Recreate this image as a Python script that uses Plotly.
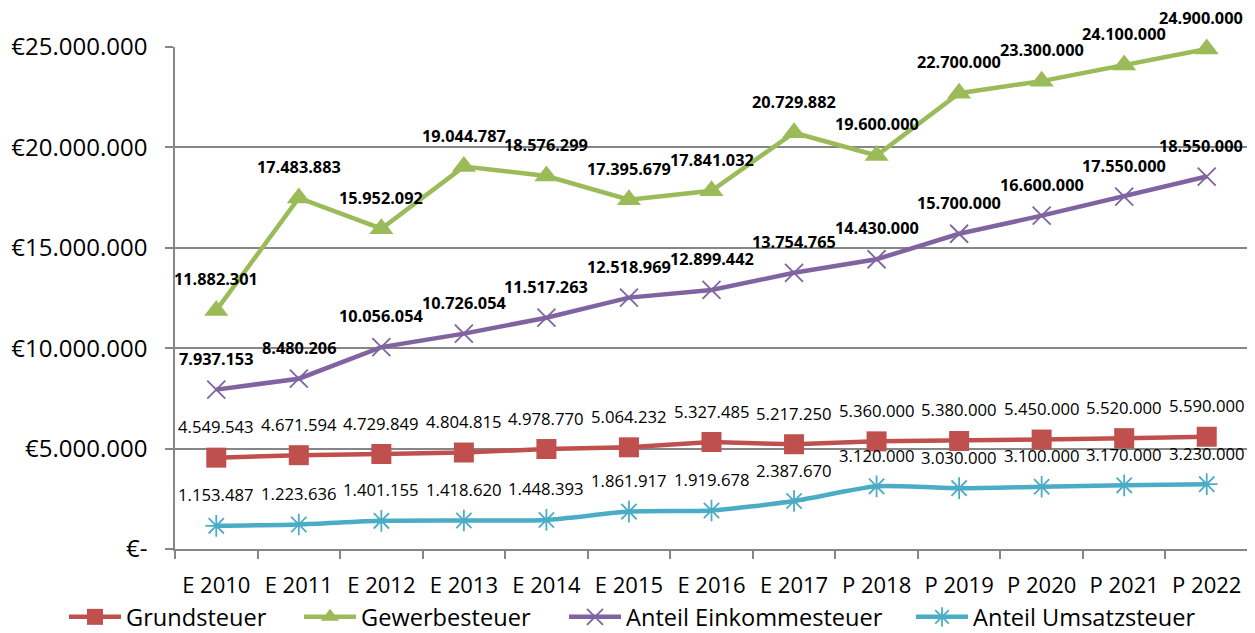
import plotly.graph_objects as go

categories = ["E 2010", "E 2011", "E 2012", "E 2013", "E 2014", "E 2015", "E 2016",
              "E 2017", "P 2018", "P 2019", "P 2020", "P 2021", "P 2022"]
grundsteuer = [4549543, 4671594, 4729849, 4804815, 4978770, 5064232, 5327485,
               5217250, 5360000, 5380000, 5450000, 5520000, 5590000]
gewerbesteuer = [11882301, 17483883, 15952092, 19044787, 18576299, 17395679, 17841032,
                 20729882, 19600000, 22700000, 23300000, 24100000, 24900000]
einkommensteuer = [7937153, 8480206, 10056054, 10726054, 11517263, 12518969, 12899442,
                   13754765, 14430000, 15700000, 16600000, 17550000, 18550000]
umsatzsteuer = [1153487, 1223636, 1401155, 1418620, 1448393, 1861917, 1919678,
                2387670, 3120000, 3030000, 3100000, 3170000, 3230000]
ytick_vals = [0, 5000000, 10000000, 15000000, 20000000, 25000000]


def fmt(v):
    return f"{v:,.0f}".replace(",", ".")


FONT = "Open Sans"
W, H = 1247, 625  # page body adds an 8px margin
series = [
    ("Grundsteuer", grundsteuer, "#C0504D", dict(symbol="square", size=20), "linear", False),
    ("Gewerbesteuer", gewerbesteuer, "#9BBB59", dict(symbol="triangle-up", size=21), "linear", True),
    ("Anteil Einkommesteuer", einkommensteuer, "#8064A2",
     dict(symbol="x-thin-open", size=18, line=dict(width=1.8, color="#8064A2")), "linear", True),
    ("Anteil Umsatzsteuer", umsatzsteuer, "#4BACC6",
     dict(symbol="asterisk-open", size=18, line=dict(width=1.8, color="#4BACC6")), "spline", False),
]
legend_x_px = [56, 291, 556, 903]
legend_keys = ["legend", "legend2", "legend3", "legend4"]

fig = go.Figure()
annotations = []
for (name, vals, color, marker, shape, bold), lk in zip(series, legend_keys):
    fig.add_trace(go.Scatter(
        x=categories, y=vals, name=name, mode="lines+markers", legend=lk,
        line=dict(color=color, width=4.5, shape=shape, smoothing=0.6),
        marker=dict(color=color, **marker), cliponaxis=False,
    ))
    last = len(categories) - 1
    for i, (c, v) in enumerate(zip(categories, vals)):
        annotations.append(dict(
            x=c, y=v, xref="x", yref="y", text=(f"<b>{fmt(v)}</b>" if bold else fmt(v)),
            showarrow=False, yshift=31, xshift=(-6 if (bold and i == last) else 0), borderpad=0,
            font=dict(family=FONT, size=(16.3 if bold else 16.7), color="#000000"),
        ))

legends = {}
for lk, px in zip(legend_keys, legend_x_px):
    legends[lk] = dict(orientation="h", xref="container", yref="container", x=px / W, xanchor="left",
                       y=1 - 609 / H, yanchor="middle", font=dict(family=FONT, size=23.6),
                       itemwidth=52, bgcolor="rgba(0,0,0,0)", borderwidth=0)

fig.update_layout(
    width=W, height=H,
    margin=dict(l=167, r=7, t=39, b=84, autoexpand=False),
    paper_bgcolor="white", plot_bgcolor="white",
    font=dict(family=FONT, color="#000000", size=22),
    annotations=annotations,
    showlegend=True,
    **legends,
)
fig.update_xaxes(
    range=[-0.5, len(categories) - 0.5],
    showgrid=False, showline=True, linecolor="#868686", linewidth=1.5,
    ticks="outside", ticklen=8, tickcolor="#868686", tickwidth=1.5, automargin=False,
    tickson="boundaries", tickangle=0, tickfont=dict(size=22, family=FONT), ticklabelstandoff=16,
)
fig.update_yaxes(
    range=[0, 25000000], tickvals=ytick_vals, automargin=False,
    ticktext=["€-"] + ["€" + fmt(v) for v in ytick_vals[1:]],
    showgrid=True, gridcolor="#868686", gridwidth=1.5,
    showline=True, linecolor="#868686", linewidth=1.5, zeroline=False,
    ticks="outside", ticklen=8, tickcolor="#868686", tickwidth=1.5,
    tickfont=dict(size=24, family=FONT), ticklabelstandoff=13,
)

fig.write_html("out.html")
